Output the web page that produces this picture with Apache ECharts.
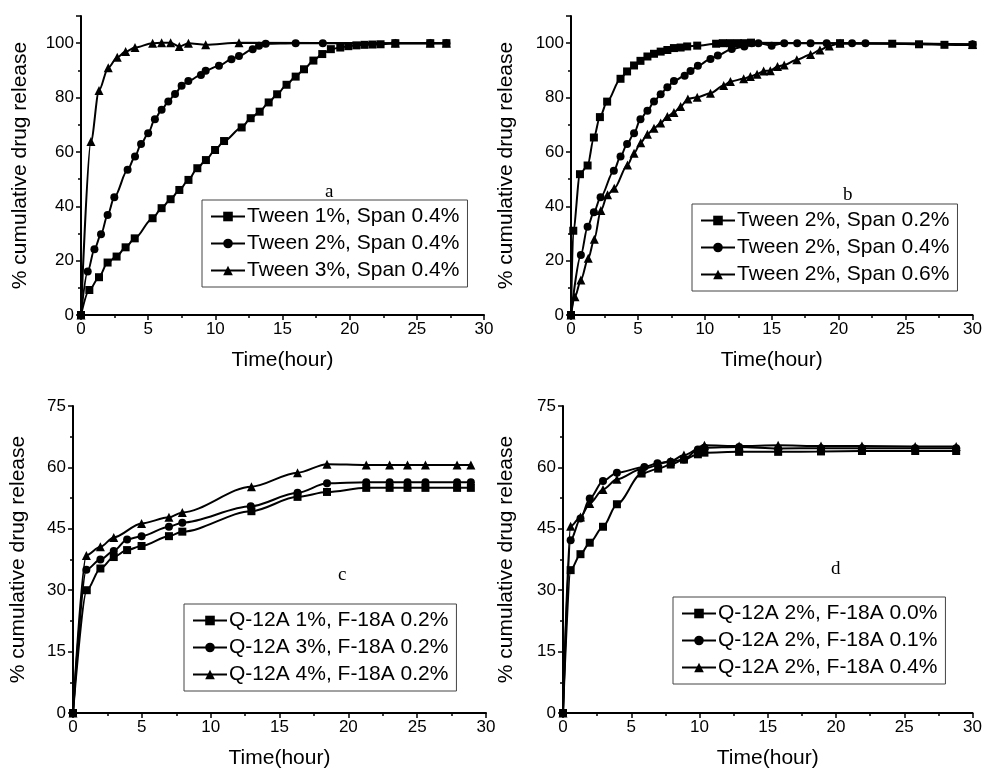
<!DOCTYPE html>
<html>
<head>
<meta charset="utf-8">
<script src="https://cdn.jsdelivr.net/npm/echarts@6/dist/echarts.min.js"></script>
<style>
  html, body { margin: 0; padding: 0; background: #fff; }
  #main { width: 985px; height: 776px; }
</style>
</head>
<body>
<div id="main"></div>
<script>
// panel a: Tween % varies, Span 0.4%  [time (h), % released]
const aTween1 = [[0,0],[0.62,9.2],[1.34,13.9],[1.98,19.3],[2.65,21.5],[3.32,24.9],[4.0,28.2],[5.33,35.6],[6.0,39.3],[6.67,42.6],[7.32,46],[8.0,49.7],[8.66,54],[9.3,57],[9.98,60.7],[10.65,64],[11.96,69],[12.63,72.4],[13.3,74.8],[13.97,78.2],[14.6,81.2],[15.3,84.7],[15.98,87.7],[16.6,90.4],[17.3,93.6],[17.96,96],[18.6,97.8],[19.3,98.4],[19.9,98.9],[20.5,99.2],[21.1,99.4],[21.7,99.5],[22.3,99.6],[23.4,100],[26,100],[27.2,100]];
const aTween2 = [[0,0],[0.5,16],[1.0,24.2],[1.49,29.7],[1.98,36.8],[2.48,43.3],[3.47,53.4],[4.02,58.3],[4.47,62.9],[5.0,66.9],[5.5,72],[6.0,75.5],[6.5,78.5],[7.0,81.3],[7.49,84.3],[7.99,86.1],[8.93,88.3],[9.28,89.9],[10.27,91.7],[11.2,94.1],[11.76,95.3],[12.78,97.8],[13.25,99.1],[13.75,99.8],[15.98,100],[18,100],[23.4,100],[26,100],[27.2,100]];
const aTween3 = [[0,0],[0.74,63.8],[1.34,82.6],[2.03,91],[2.7,94.8],[3.32,96.9],[4.02,98.4],[5.33,100],[6.0,100.2],[6.67,100.2],[7.32,98.8],[8.0,100],[9.28,99.4],[11.76,100.2],[23.4,100],[26,100],[27.2,100]];

// panel b: Tween 2%, Span % varies
const bSpan02 = [[0,0],[0.17,31],[0.67,51.8],[1.24,55],[1.71,65.3],[2.16,72.8],[2.7,78.5],[3.7,86.9],[4.19,89.6],[4.71,91.8],[5.19,93.5],[5.71,95.1],[6.2,96.1],[6.7,96.9],[7.2,97.5],[7.69,98.2],[8.19,98.4],[8.68,98.8],[9.43,99.1],[10.84,99.8],[11.34,100],[11.88,100],[12.46,100],[12.95,100],[13.45,100.2],[20.1,100],[24,99.8],[26,99.6],[27.9,99.4],[30,99.3]];
const bSpan04 = [[0,0],[0.74,22.1],[1.24,32.5],[1.71,37.8],[2.21,43.3],[3.2,53.1],[3.7,58.3],[4.19,62.9],[4.71,66.9],[5.19,72],[5.71,75.1],[6.2,78.5],[6.7,81.2],[7.2,83.8],[7.69,86.1],[8.49,88],[8.93,89.8],[9.48,91.7],[10.42,94.2],[10.97,95.5],[12.01,97.9],[12.95,98.8],[13.5,100],[14,100],[14.99,99.1],[15.93,100],[16.9,100],[17.9,100],[19.1,100],[21,100],[22,100],[30,99.6]];
const bSpan06 = [[0,0],[0.3,6.7],[0.74,12.9],[1.29,20.9],[1.74,27.9],[2.23,38.4],[2.73,44.2],[3.23,46.6],[4.22,55.2],[4.71,59.5],[5.21,63.4],[5.71,66.5],[6.2,68.7],[6.7,70.6],[7.2,73],[7.69,74.5],[8.19,76.7],[8.73,79.5],[9.43,80.1],[10.42,81.6],[11.41,84.4],[11.91,85.9],[12.9,86.9],[13.4,87.7],[13.9,88.6],[14.39,89.8],[14.89,89.9],[15.43,91.4],[15.93,92],[16.87,93.9],[17.9,95.8],[18.6,97.5],[19.3,99],[20.1,100],[30,99.5]];

// panel c: Q-12A % varies, F-18A 0.2%
const cQ1 = [[0,0],[1,30],[1.99,35.3],[2.96,38.1],[3.93,39.8],[4.98,40.8],[6.97,43.2],[7.94,44.3],[12.96,49.3],[16.31,52.8],[18.45,54],[21.3,55],[23,55],[24.3,55],[25.6,55],[27.9,55],[28.9,55]];
const cQ3 = [[0,0],[0.97,35],[1.99,37.5],[2.96,39.6],[3.93,42.4],[4.98,43.2],[6.97,45.5],[7.94,46.5],[12.91,50.5],[16.31,53.8],[18.45,56.1],[21.3,56.4],[23,56.4],[24.3,56.4],[25.6,56.4],[27.9,56.4],[28.9,56.4]];
const cQ4 = [[0,0],[0.97,38.5],[1.99,40.6],[2.96,42.9],[4.98,46.3],[6.97,47.8],[7.94,49],[12.96,55.3],[16.31,58.7],[18.45,60.8],[21.3,60.6],[23,60.6],[24.3,60.6],[25.6,60.6],[27.9,60.6],[28.9,60.6]];

// panel d: Q-12A 2%, F-18A % varies
const dF00 = [[0,0],[0.56,34.9],[1.28,38.8],[1.96,41.6],[2.93,45.5],[3.95,51],[5.76,58.5],[6.97,59.7],[7.89,60.7],[8.86,61.9],[9.88,63.2],[10.36,63.6],[12.9,63.8],[15.76,63.8],[18.9,63.9],[21.9,64],[25.8,64],[28.8,64]];
const dF01 = [[0,0],[0.56,42.2],[1.28,47.5],[1.96,52.4],[2.93,56.7],[3.95,58.7],[5.96,60.1],[6.92,61],[7.89,61.4],[8.86,61.9],[9.88,64.4],[10.36,64.8],[12.9,65],[15.76,64.6],[18.9,64.7],[21.9,64.7],[25.8,64.7],[28.8,64.7]];
const dF04 = [[0,0],[0.56,45.6],[1.28,47.9],[1.96,51.2],[2.93,54.6],[3.95,57.1],[5.76,59.6],[7.89,61.5],[8.86,63],[10.36,65.4],[12.9,65.2],[15.76,65.4],[18.9,65.2],[21.9,65.2],[25.8,65.1],[28.8,65.1]];

const namesA = ['Tween 1%, Span 0.4%', 'Tween 2%, Span 0.4%', 'Tween 3%, Span 0.4%'];
const namesB = ['Tween 2%, Span 0.2%', 'Tween 2%, Span 0.4%', 'Tween 2%, Span 0.6%'];
const namesC = ['Q-12A 1%, F-18A 0.2%', 'Q-12A 3%, F-18A 0.2%', 'Q-12A 4%, F-18A 0.2%'];
const namesD = ['Q-12A 2%, F-18A 0.0%', 'Q-12A 2%, F-18A 0.1%', 'Q-12A 2%, F-18A 0.4%'];
const panelLetters = ['a', 'b', 'c', 'd'];

const font = 'Arial, "Liberation Sans", sans-serif';
const symbols = ['rect', 'circle', 'triangle'];
const symbolSizes = [8, 8, 9];

const grids = [
    {left: 81, top: 16, width: 403, height: 299},
    {left: 571, top: 16, width: 404, height: 299},
    {left: 73, top: 406, width: 413, height: 307},
    {left: 563, top: 406, width: 413, height: 307}
];
const yNameGaps = [50, 54, 44, 46];

function xAxis(i) {
    return {
        gridIndex: i, type: 'value', min: 0, max: 30, interval: 5,
        name: 'Time(hour)', nameLocation: 'middle', nameGap: 35,
        nameTextStyle: {fontSize: 21, fontFamily: font, color: '#000'},
        axisLine: {lineStyle: {color: '#000', width: 2}},
        axisTick: {length: 5, lineStyle: {color: '#000', width: 1.5}},
        minorTick: {show: true, splitNumber: 2, length: 3, lineStyle: {color: '#000', width: 1.5}},
        axisLabel: {fontSize: 17, fontFamily: font, color: '#000', margin: 6},
        splitLine: {show: false}
    };
}

function yAxis(i, max, interval) {
    return {
        gridIndex: i, type: 'value', min: 0, max: max, interval: interval,
        name: '% cumulative drug release', nameLocation: 'middle', nameGap: yNameGaps[i],
        nameTextStyle: {fontSize: 21, fontFamily: font, color: '#000'},
        axisLine: {show: true, lineStyle: {color: '#000', width: 2}},
        axisTick: {show: true, length: 5, lineStyle: {color: '#000', width: 1.5}},
        minorTick: {show: true, splitNumber: 2, length: 3, lineStyle: {color: '#000', width: 1.5}},
        axisLabel: {fontSize: 17, fontFamily: font, color: '#000', margin: 7, showMaxLabel: max % interval === 0},
        splitLine: {show: false}
    };
}

function makeSeries(i, names, datas) {
    return datas.map((d, k) => ({
        name: names[k], type: 'line', xAxisIndex: i, yAxisIndex: i,
        data: d, symbol: symbols[k], symbolSize: symbolSizes[k],
        smooth: 0.3, smoothMonotone: 'x',
        itemStyle: {color: '#000'},
        lineStyle: {color: '#000', width: 2}
    }));
}

function legend(names, left, top) {
    return {
        data: names, orient: 'vertical', left: left, top: top,
        borderColor: '#444', borderWidth: 1, padding: [6, 8, 6, 8],
        itemWidth: 34, itemHeight: 12, itemGap: 6,
        textStyle: {fontSize: 21, fontFamily: font, color: '#000', padding: [0, 0, 0, -3]},
        selectedMode: false
    };
}

const letterPos = [[330, 195], [848, 198], [343, 578], [836, 572]];

const option = {
    animation: false,
    backgroundColor: '#fff',
    grid: grids,
    xAxis: [0, 1, 2, 3].map(xAxis),
    yAxis: [yAxis(0, 110, 20), yAxis(1, 110, 20), yAxis(2, 75, 15), yAxis(3, 75, 15)],
    legend: [
        legend(namesA, 202, 200),
        legend(namesB, 692, 204),
        legend(namesC, 184, 604),
        legend(namesD, 673, 597)
    ],
    series: [].concat(
        makeSeries(0, namesA, [aTween1, aTween2, aTween3]),
        makeSeries(1, namesB, [bSpan02, bSpan04, bSpan06]),
        makeSeries(2, namesC, [cQ1, cQ3, cQ4]),
        makeSeries(3, namesD, [dF00, dF01, dF04])
    ),
    graphic: panelLetters.map((t, i) => ({
        type: 'text', left: letterPos[i][0] - 5, top: letterPos[i][1] - 12,
        style: {text: t, fontSize: 19, fontFamily: '"Liberation Serif", "Times New Roman", serif', fill: '#000'}
    }))
};

const chart = echarts.init(document.getElementById('main'), null, {renderer: 'canvas'});
chart.setOption(option);
</script>
</body>
</html>
